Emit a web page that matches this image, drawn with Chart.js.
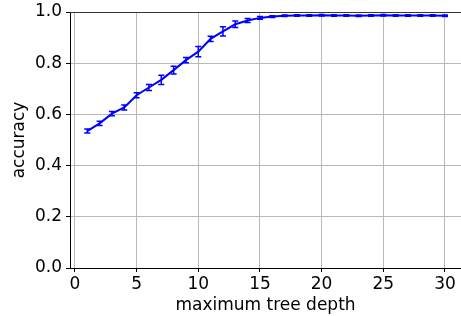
<!DOCTYPE html>
<html>
<head>
<meta charset="utf-8">
<script src="https://cdn.jsdelivr.net/npm/chart.js@4"></script>
<style>
  html, body { margin: 0; padding: 0; background: #fff; }
  #wrap { width: 461px; height: 316px; }
</style>
</head>
<body>
<div id="wrap"><canvas id="myChart" width="461" height="316"></canvas></div>
<script>
'use strict';

// tree depth vs accuracy (mean and half-width of error bar)
let depths = [1, 2, 3, 4, 5, 6, 7, 8, 9, 10, 11, 12, 13, 14, 15,
  16, 17, 18, 19, 20, 21, 22, 23, 24, 25, 26, 27, 28, 29, 30];
let accuracy = [0.535, 0.565, 0.603, 0.627, 0.675, 0.705, 0.735, 0.773, 0.812, 0.845,
  0.895, 0.924, 0.952, 0.967, 0.977, 0.982, 0.985, 0.986, 0.986, 0.987,
  0.986, 0.986, 0.985, 0.986, 0.987, 0.986, 0.986, 0.986, 0.986, 0.985];
let errors = [0.008, 0.008, 0.008, 0.010, 0.010, 0.012, 0.018, 0.015, 0.010, 0.020,
  0.010, 0.018, 0.013, 0.008, 0.005, 0.003, 0.003, 0.003, 0.003, 0.003,
  0.003, 0.003, 0.003, 0.003, 0.003, 0.003, 0.003, 0.003, 0.003, 0.003];
let xTicks = [0, 5, 10, 15, 20, 25, 30];
let yTicks = [0.0, 0.2, 0.4, 0.6, 0.8, 1.0];

let points = [];
for (let i = 0; i < depths.length; i++) {
  points.push({ x: depths[i], y: accuracy[i] });
}

// error bars + top spine
let errorBars = {
  id: 'errorBars',
  afterDatasetsDraw(chart) {
    let ctx = chart.ctx;
    let xs = chart.scales.x;
    let ys = chart.scales.y;
    ctx.save();
    ctx.strokeStyle = 'blue';
    ctx.lineWidth = 1.5;
    for (let i = 0; i < depths.length; i++) {
      let px = xs.getPixelForValue(depths[i]);
      let top = ys.getPixelForValue(accuracy[i] + errors[i]);
      let bot = ys.getPixelForValue(accuracy[i] - errors[i]);
      ctx.beginPath();
      ctx.moveTo(px, top);
      ctx.lineTo(px, bot);
      ctx.moveTo(px - 3, top);
      ctx.lineTo(px + 3, top);
      ctx.moveTo(px - 3, bot);
      ctx.lineTo(px + 3, bot);
      ctx.stroke();
    }
    let area = chart.chartArea;
    ctx.strokeStyle = '#333';
    ctx.lineWidth = 1;
    ctx.beginPath();
    ctx.moveTo(area.left, area.top + 0.5);
    ctx.lineTo(area.right, area.top + 0.5);
    ctx.stroke();
    ctx.restore();
  }
};

Chart.defaults.font.family = '"DejaVu Sans", sans-serif';
Chart.defaults.font.size = 17;
Chart.defaults.color = '#000';

let ctx = document.getElementById('myChart');
let myChart = new Chart(ctx, {
  type: 'line',
  data: {
    datasets: [{
      data: points,
      borderColor: 'blue',
      borderWidth: 2,
      pointRadius: 0,
      tension: 0,
      fill: false
    }]
  },
  options: {
    responsive: false,
    animation: false,
    plugins: { legend: { display: false }, tooltip: { enabled: false } },
    layout: { padding: { top: 12, right: 0, left: 0, bottom: 0 } },
    scales: {
      x: {
        type: 'linear',
        min: -0.4,
        max: 31.3,
        afterBuildTicks(scale) {
          scale.ticks = xTicks.map(v => ({ value: v }));
        },
        afterFit(scale) { scale.height = 48; scale.paddingLeft = 0; scale.paddingRight = 0; },
        ticks: { padding: 2, maxRotation: 0, autoSkip: false },
        grid: { color: '#b8b8b8', lineWidth: 1, tickColor: '#000', tickLength: 4 },
        border: { color: '#000', width: 1 },
        title: { display: true, text: 'maximum tree depth', padding: { top: 0, bottom: 0 } }
      },
      y: {
        min: 0,
        max: 1,
        afterBuildTicks(scale) {
          scale.ticks = yTicks.map(v => ({ value: v }));
        },
        afterFit(scale) { scale.width = 70; scale.paddingTop = 0; scale.paddingBottom = 0; },
        ticks: { padding: 4, callback: v => v.toFixed(1) },
        grid: { color: '#b8b8b8', lineWidth: 1, tickColor: '#000', tickLength: 4 },
        border: { color: '#000', width: 1 },
        title: { display: true, text: 'accuracy', padding: { top: 9, bottom: 0 } }
      }
    }
  },
  plugins: [errorBars]
});
</script>
</body>
</html>
